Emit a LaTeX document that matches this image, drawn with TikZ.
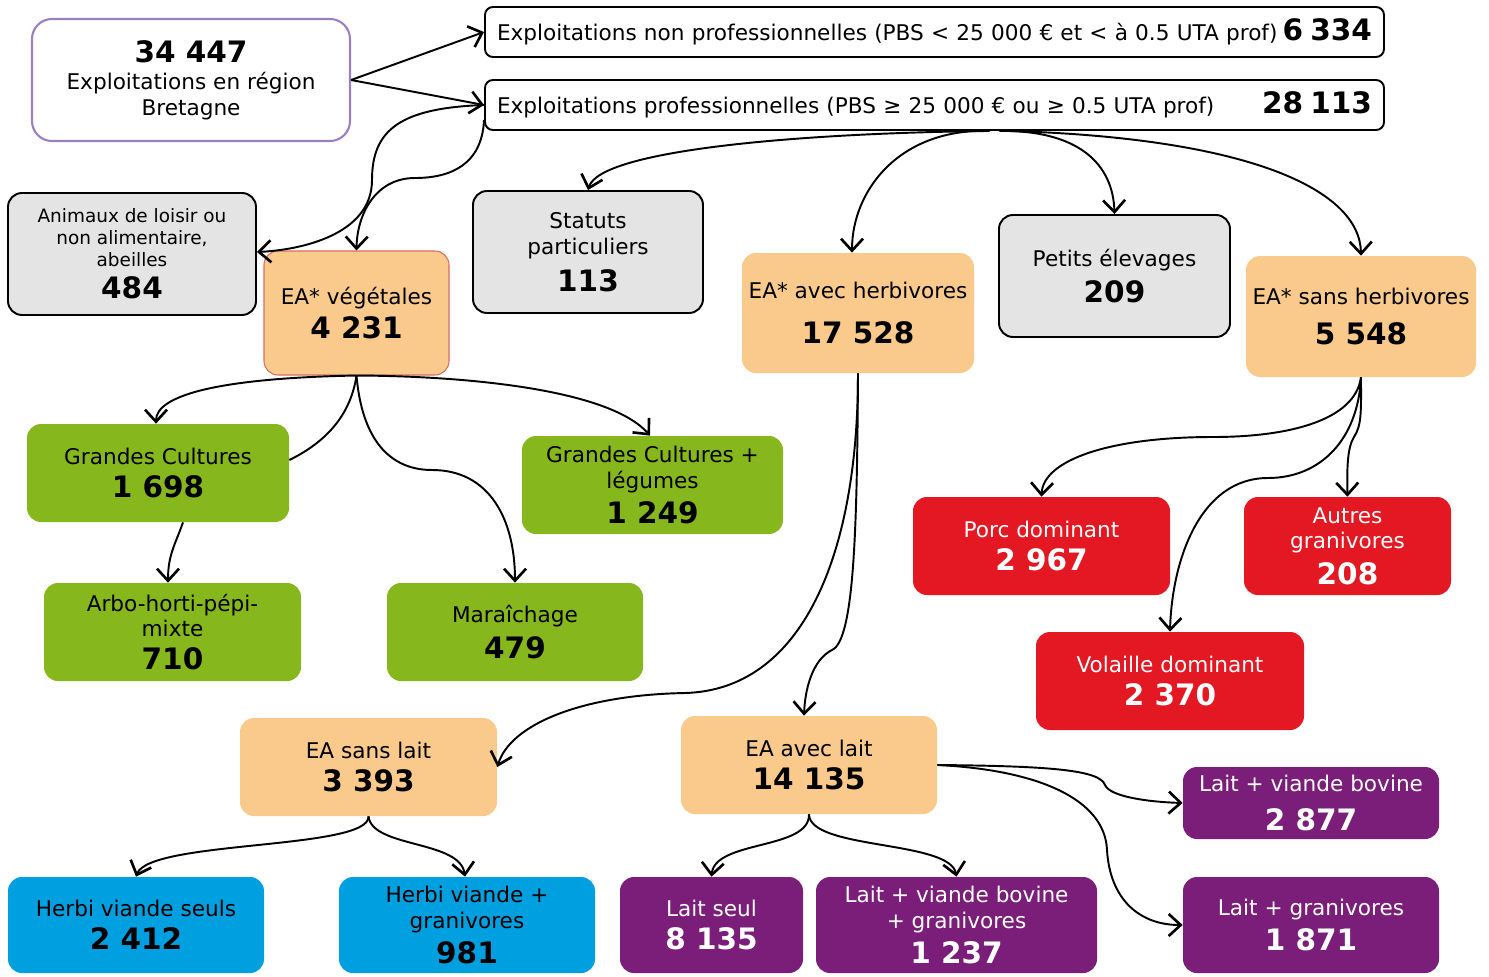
\documentclass[tikz,border=0pt]{standalone}
\usepackage{fontspec}
\setmainfont{DejaVu Sans}
\usetikzlibrary{arrows.meta}
\definecolor{rootline}{RGB}{155,127,192}
\definecolor{eaorange}{RGB}{249,202,139}
\definecolor{vegline}{RGB}{214,110,95}
\definecolor{boxgray}{RGB}{227,228,227}
\definecolor{cropgreen}{RGB}{134,183,28}
\definecolor{granired}{RGB}{227,24,34}
\definecolor{laitpurple}{RGB}{123,30,121}
\definecolor{herbiblue}{RGB}{0,159,224}
\newcommand{\bignum}[1]{{\fontsize{16.8}{19}\selectfont\bfseries #1}}

\begin{document}
\begin{tikzpicture}[x=0.02cm, y=-0.02cm,
  wh/.style 2 args={minimum width={#1*0.02cm}, minimum height={#2*0.02cm}}]
\tikzstyle{box}=[rectangle, rounded corners=0.28cm, align=center, inner sep=0pt, font=\fontsize{12.3}{14.5}\selectfont]
\tikzstyle{grey}=[box, fill=boxgray, draw=black, line width=1.1pt]
\tikzstyle{ea}=[box, fill=eaorange]
\tikzstyle{crop}=[box, fill=cropgreen]
\tikzstyle{gran}=[box, fill=granired, text=white]
\tikzstyle{lait}=[box, fill=laitpurple, text=white]
\tikzstyle{herbi}=[box, fill=herbiblue]
\tikzstyle{link}=[line width=1.1pt, -{Straight Barb[length=2.4mm,width=4.4mm,line width=1.5pt]}]
\useasboundingbox (0,0) rectangle (1489,977);

% top level
\node[box, wh={318}{122}, draw=rootline, line width=1.2pt, rounded corners=0.4cm, fill=white] (Tot) at (191,80)
  {\bignum{34 447}\\[1pt]Exploitations en région\\Bretagne};
\node[box, wh={899}{50}, draw, line width=1.1pt, rounded corners=0.16cm, align=left, text width={875*0.02cm}] (NonPro) at (934.5,32)
  {Exploitations non professionnelles (PBS < 25 000 € et < à 0.5 UTA prof)\hfill\bignum{6 334}};
\node[box, wh={899}{50}, draw, line width=1.1pt, rounded corners=0.16cm, align=left, text width={875*0.02cm}] (Pro) at (934.5,105)
  {Exploitations professionnelles (PBS ≥ 25 000 € ou ≥ 0.5 UTA prof)\hfill\bignum{28 113}\hspace*{0.3cm}};

% professional branches
\node[grey, wh={248}{122}, font=\fontsize{10.5}{12.4}\selectfont] (Anim) at (132,254)
  {Animaux de loisir ou\\non alimentaire,\\abeilles\\[5pt]\bignum{484}};
\node[ea, wh={185}{124}, draw=vegline, line width=0.6pt] (Veg) at (356.5,313) {EA* végétales\\[3pt]\bignum{4 231}};
\node[grey, wh={230}{122}] (Stat) at (588,252) {Statuts\\particuliers\\[5pt]\bignum{113}};
\node[ea, wh={232}{120}] (Herb) at (858,313) {EA* avec herbivores\\[11pt]\bignum{17 528}};
\node[grey, wh={231}{122}] (Pet) at (1114.5,276) {Petits élevages\\[4pt]\bignum{209}};
\node[ea, wh={230}{121}] (SansH) at (1361,316.5) {EA* sans herbivores\\[8pt]\bignum{5 548}};

% crops
\node[crop, wh={262}{98}] (GC) at (158,473) {Grandes Cultures\\[4pt]\bignum{1 698}};
\node[crop, wh={261}{98}] (GCL) at (652.5,485) {Grandes Cultures +\\légumes\\[4pt]\bignum{1 249}};
\node[crop, wh={257}{98}] (Arbo) at (172.5,632) {Arbo-horti-pépi-\\mixte\\[4pt]\bignum{710}};
\node[crop, wh={256}{98}] (Mar) at (515,632) {Maraîchage\\[4pt]\bignum{479}};

% granivores
\node[gran, wh={257}{98}] (Porc) at (1041.5,546) {Porc dominant\\[4pt]\bignum{2 967}};
\node[gran, wh={207}{98}] (Autr) at (1347.5,546) {Autres\\granivores\\[4pt]\bignum{208}};
\node[gran, wh={268}{98}] (Vol) at (1170,681) {Volaille dominant\\[4pt]\bignum{2 370}};

% herbivores
\node[ea, wh={257}{98}] (SansL) at (368.5,767) {EA sans lait\\[4pt]\bignum{3 393}};
\node[ea, wh={256}{98}] (AvecL) at (809,765) {EA avec lait\\[4pt]\bignum{14 135}};
\node[herbi, wh={256}{96}] (HVS) at (136,925) {Herbi viande seuls\\[4pt]\bignum{2 412}};
\node[herbi, wh={256}{96}] (HVG) at (467,925) {Herbi viande +\\granivores\\[4pt]\bignum{981}};
\node[lait, wh={183}{96}] (LS) at (711.5,925) {Lait seul\\[4pt]\bignum{8 135}};
\node[lait, wh={281}{96}] (LVBG) at (956.5,925) {Lait + viande bovine\\+ granivores\\[4pt]\bignum{1 237}};
\node[lait, wh={256}{72}] (LVB) at (1311,803) {Lait + viande bovine\\[8pt]\bignum{2 877}};
\node[lait, wh={256}{96}] (LGr) at (1311,925) {Lait + granivores\\[4pt]\bignum{1 871}};

% connectors
\path[link] (Tot.east) edge (NonPro.west)
                       edge (Pro.west);
\draw[link] (Pro.west) .. controls (400,108) and (372,130) .. (372,180)
  .. controls (372,235) and (300,250) .. ([yshift=0.04cm]Anim.east);
\draw[link] ([yshift=-0.3cm]Pro.west) .. controls (482,165) and (450,178) .. (415,178)
  .. controls (375,178) and (357,215) .. (Veg.north);
\draw[link] ([xshift=1.1cm]Pro.south) .. controls (800,133) and (600,150) .. (Stat.north);
\draw[link] ([xshift=1.1cm]Pro.south) .. controls (900,128) and (852,190) .. ([xshift=-0.12cm]Herb.north);
\draw[link] ([xshift=1.3cm]Pro.south) .. controls (1080,130) and (1113,165) .. (Pet.north);
\draw[link] ([xshift=1.5cm]Pro.south) .. controls (1250,138) and (1360,190) .. (SansH.north);

\draw[link] (Veg.south) .. controls (220,378) and (156,395) .. ([xshift=-0.04cm]GC.north);
\draw[line width=1.1pt] (Veg.south) .. controls (350,420) and (320,445) .. ([yshift=0.26cm]GC.east);
\draw[link] (Veg.south) .. controls (362,440) and (390,470) .. (432,470)
  .. controls (490,470) and (515,520) .. (Mar.north);
\draw[link] (Veg.south) .. controls (470,376) and (610,390) .. ([xshift=-0.05cm]GCL.north);
\draw[link] ([xshift=0.5cm]GC.south) .. controls (175,545) and (168,555) .. ([xshift=-0.09cm]Arbo.north);

\draw[link] (Herb.south) .. controls (858,560) and (800,690) .. (685,693)
  .. controls (580,695) and (510,725) .. (SansL.east);
\draw[link] (Herb.south) .. controls (857,520) and (855,640) .. (832,650)
  .. controls (812,660) and (805,690) .. ([xshift=-0.1cm]AvecL.north);

\draw[link] (SansH.south) .. controls (1355,420) and (1290,437) .. (1213,437)
  .. controls (1110,437) and (1043,460) .. (Porc.north);
\draw[link] (SansH.south) .. controls (1358,440) and (1320,478) .. (1268,478)
  .. controls (1200,478) and (1172,560) .. (Vol.north);
\draw[link] (SansH.south) .. controls (1361,410) and (1362,425) .. (1354,437)
  .. controls (1347,448) and (1347,470) .. (Autr.north);

\draw[link] (SansL.south) .. controls (370,850) and (150,840) .. (HVS.north);
\draw[link] (SansL.south) .. controls (372,848) and (460,840) .. ([xshift=-0.04cm]HVG.north);
\draw[link] (AvecL.south) .. controls (810,850) and (715,840) .. (LS.north);
\draw[link] (AvecL.south) .. controls (810,850) and (950,840) .. (LVBG.north);
\draw[link] (AvecL.east) .. controls (1050,766) and (1100,770) .. (1105,785)
  .. controls (1110,797) and (1150,802) .. (LVB.west);
\draw[link] (AvecL.east) .. controls (1040,770) and (1105,800) .. (1107,850)
  .. controls (1110,900) and (1140,925) .. (LGr.west);
\end{tikzpicture}
\end{document}
